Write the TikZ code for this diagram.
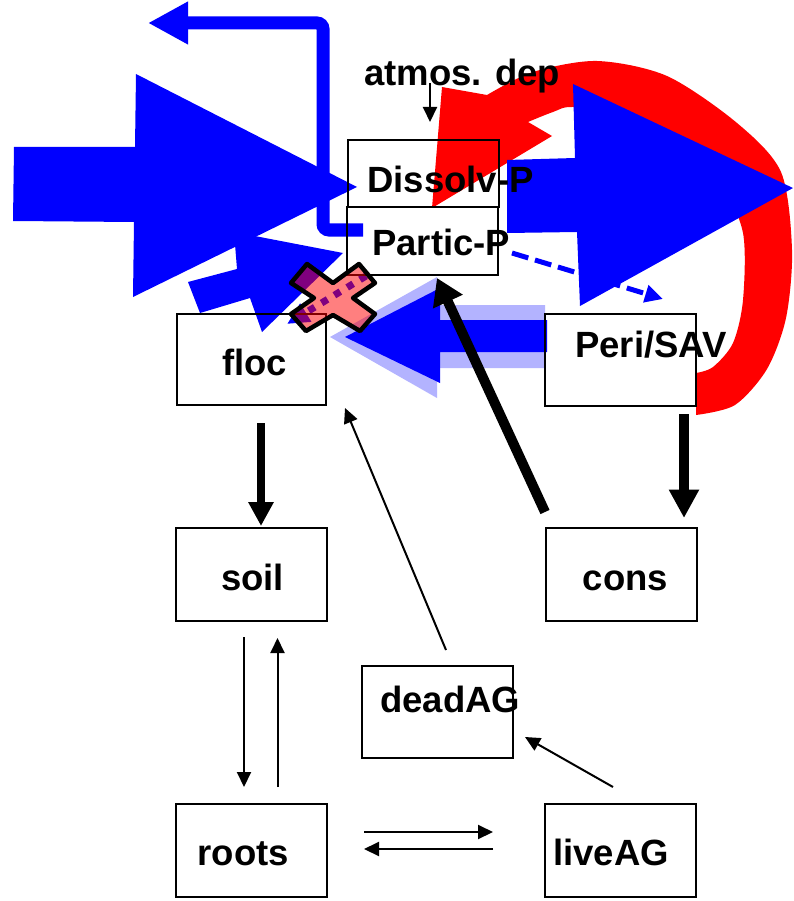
\documentclass[tikz,border=0pt]{standalone}
\usepackage{fontspec}
\setmainfont{Liberation Sans}
\usetikzlibrary{arrows.meta,calc}
\definecolor{paleblue}{RGB}{179,179,255}
\begin{document}
\begin{tikzpicture}[x=1pt,y=-1pt,
  box/.style={draw, line width=2pt, inner sep=0pt},
  lbl/.style={font=\fontsize{36.5}{40}\selectfont\bfseries, anchor=base west, inner sep=0pt},
  thinarr/.style={line width=2pt, -{Triangle[width=14pt,length=15pt]}},
  fatarr/.style={line width=#1, -{Triangle[width=3*#1,length=3*#1]}},
]
\useasboundingbox (0,0) rectangle (794,901);

% ---- red recycling band from Peri/SAV back to Dissolv-P
\fill[red] plot[smooth] coordinates {(487,95) (533,72) (597,61) (667,76) (737,123) (781,172) (792,250) (786,318) (767,369) (735,405) (696,415)}
  -- plot[smooth] coordinates {(696,373) (713,367) (733,343) (743,300) (743,233) (720,180) (683,140) (633,115) (573,107) (553,112) (528,122)}
  -- (552,136) -- (432,208) -- (442,87) -- cycle;

% ---- export path leaving Partic-P
\draw[blue, line width=13pt, rounded corners=6pt, -{Triangle[width=40pt,length=40pt]}]
  (363,230) -- (323,230) -- (323,23) -- (148,23);

% ---- large inflow into Dissolv-P
\fill[blue] (14,147) -- (135,147) -- (136,74) -- (357,187) -- (133,297) -- (134,222) -- (13,221) -- cycle;

% ---- resuspension floc -> Partic-P
\fill[blue] (200,313) -- (188,282) -- (237,269) -- (234,232) -- (343,253) -- (262,332) -- (250,298) -- cycle;

% ---- dashed uptake Partic-P -> Peri/SAV
\draw[blue, line width=5pt, dash pattern=on 17pt off 7pt, -{Triangle[width=17pt,length=18pt]}]
  (512,253) -- (663,299);

% ---- crossed-out settling Partic-P -> floc
\draw[blue, line width=7pt, dash pattern=on 7pt off 8pt, -{Triangle[width=20pt,length=22pt]}]
  (366,276) -- (287,324);

% ---- large outflow from Dissolv-P
\fill[blue] (507,160) -- (575,158) -- (573,84) -- (793,188) -- (580,306) -- (577,232) -- (507,233) -- cycle;

% ---- Peri/SAV -> floc, with pale halo
\fill[paleblue] (545,305) -- (437,305) -- (437,277) -- (330,337) -- (437,398) -- (437,368) -- (545,368) -- cycle;
\fill[blue] (547,320) -- (440,320) -- (440,288) -- (345,337) -- (440,383) -- (440,352) -- (547,352) -- cycle;

% ---- compartments
\node[box, minimum width=151, minimum height=67] (Dis) at (423.5,173.5) {};
\node[box, minimum width=151, minimum height=68] (Par) at (422.5,241) {};
\node[box, minimum width=149, minimum height=91] (floc) at (251.5,359.5) {};
\node[box, minimum width=151, minimum height=92] (Peri) at (620.5,360) {};
\node[box, minimum width=151, minimum height=93] (soil) at (251.5,574.5) {};
\node[box, minimum width=151, minimum height=93] (cons) at (621.5,574.5) {};
\node[box, minimum width=151, minimum height=92] (dead) at (437.5,712) {};
\node[box, minimum width=151, minimum height=93] (roots) at (251.5,850.5) {};
\node[box, minimum width=151, minimum height=93] (live) at (620.5,850.5) {};

% ---- labels
\node[lbl] (tatm) at (364,86) {atmos. dep};
\node[lbl] (tDis) at (367,193) {Dissolv-P};
\node[lbl] (tPar) at (372,255) {Partic-P};
\node[lbl] (tfloc) at (222,375) {floc};
\node[lbl] (tPeri) at (575,357) {Peri/SAV};
\node[lbl] (tsoil) at (221,590) {soil};
\node[lbl] (tcons) at (582.5,590) {cons};
\node[lbl] (tdead) at (380,712) {deadAG};
\node[lbl] (troots) at (197.5,865) {roots};
\node[lbl] (tlive) at (553,865) {liveAG};

% ---- black flows
\draw[fatarr=8pt] ($(261,0 |- floc.south)+(0,17)$) -- ($(261,0 |- soil.north)+(0,-1)$);
\draw[fatarr=9.5pt] ($(684,0 |- Peri.south)+(0,7)$) -- ($(684,0 |- cons.north)+(0,-9)$);
\draw[line width=10pt, -{Triangle[width=31pt,length=26pt]}] ($(cons.north west)+(0,-15)$) -- ($(Par.south)+(14.5,2)$);

\draw[thinarr] ($(430,0 |- tatm.base)+(0,-3)$) -- ($(430,0 |- Dis.north)+(0,-17)$);
\draw[thinarr] ($(dead.north)+(8.5,-15)$) -- ($(floc.south east)+(18,2)$);
\draw[thinarr] ($(live.north)+(-7.5,-16)$) -- ($(dead.east)+(11,25)$);
\draw[thinarr] ($(244,0 |- soil.south)+(0,15)$) -- ($(244,0 |- roots.north)+(0,-16)$);
\draw[thinarr] ($(277.5,0 |- roots.north)+(0,-16)$) -- ($(277.5,0 |- soil.south)+(0,16)$);
\draw[thinarr] ($(364,0 |- roots.north)+(0,29)$) -- ($(493,0 |- live.north)+(0,29)$);
\draw[thinarr] ($(493,0 |- live.north)+(0,46)$) -- ($(364,0 |- roots.north)+(0,46)$);

% ---- cross marking the blocked flux
\filldraw[fill=red, fill opacity=0.5, draw=black, line width=4.5pt, line join=round]
  (291,283) -- (307,264) -- (333,283) -- (359,264) -- (375,283) -- (353,298) -- (375,314) -- (360,331)
  -- (333,315) -- (306,331) -- (291,314) -- (314,298) -- cycle;
\end{tikzpicture}
\end{document}
